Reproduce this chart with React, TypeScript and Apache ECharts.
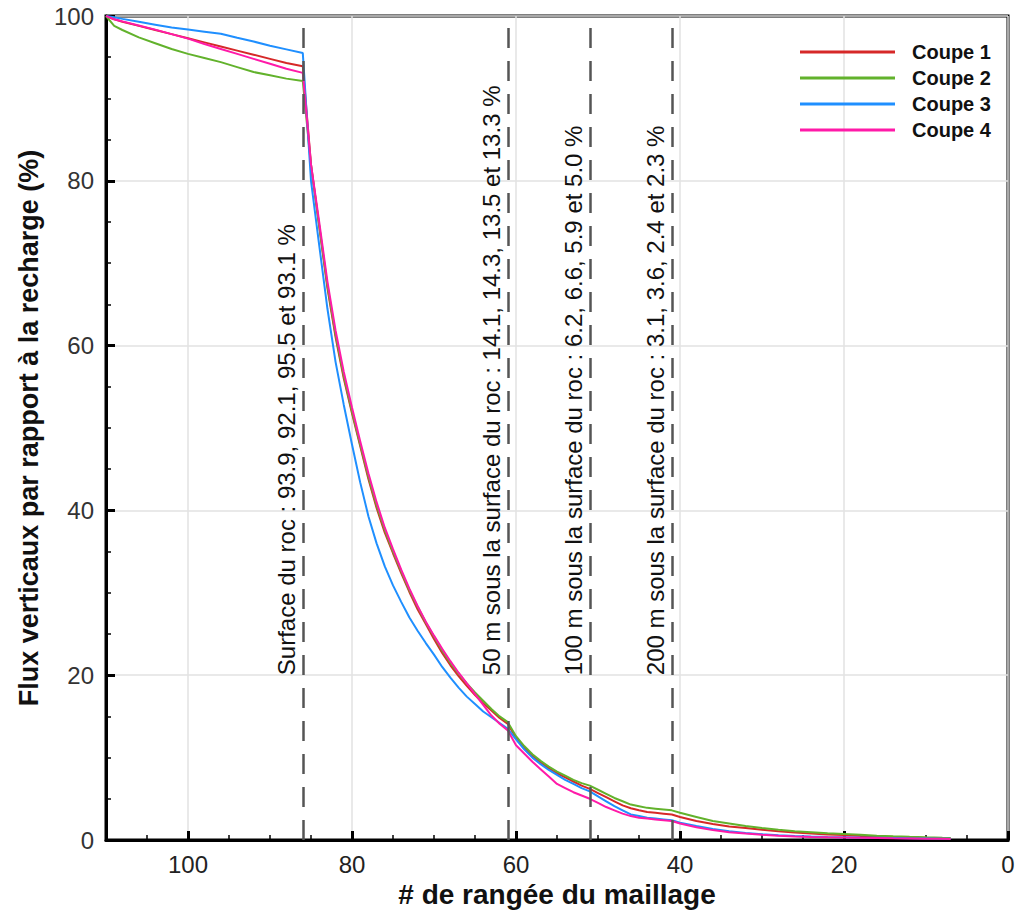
import React, { useEffect, useRef } from "react";
import * as echarts from "echarts";

const rows = [
  110, 109, 108, 106, 104, 102, 100, 98, 96, 94, 92, 90, 88, 86,
  85, 84, 83, 82, 81, 80, 79, 78, 77, 76, 75, 74, 73, 72, 71, 70, 69, 68, 67, 66, 65, 64, 63, 62, 61,
  60, 59, 58, 57, 56, 55, 54, 53, 52, 51, 50, 49, 48, 47, 46, 45, 44, 43, 42, 41,
  40, 38, 36, 34, 32, 30, 28, 26, 24, 22, 20, 18, 16, 14, 12, 10, 8, 7,
];

const coupe1 = [
  100, 99.6, 99.3, 98.8, 98.3, 97.8, 97.3, 96.8, 96.3, 95.8, 95.3, 94.8, 94.3, 93.9,
  82.0, 74.5, 67.0, 61.0, 56.0, 51.8, 47.8, 43.8, 40.3, 37.3, 34.8, 32.4, 30.1, 28.0, 26.2, 24.4, 22.7, 21.2, 19.9, 18.7, 17.6, 16.6, 15.7, 14.8, 14.1,
  12.4, 11.2, 10.2, 9.4, 8.7, 8.1, 7.6, 7.1, 6.6, 6.2, 5.7, 5.2, 4.7, 4.2, 3.85, 3.6, 3.4, 3.3, 3.2, 3.1,
  2.8, 2.3, 1.95, 1.65, 1.45, 1.25, 1.05, 0.9, 0.78, 0.68, 0.6, 0.5, 0.42, 0.36, 0.3, 0.25, 0.22, 0.2,
];

const coupe2 = [
  100, 98.8, 98.3, 97.4, 96.7, 96.0, 95.4, 94.9, 94.4, 93.8, 93.2, 92.8, 92.4, 92.1,
  81.8, 74.6, 67.3, 61.3, 56.3, 52.0, 48.0, 44.1, 40.6, 37.6, 35.0, 32.6, 30.3, 28.3, 26.4, 24.7, 23.0, 21.5, 20.2, 19.0, 17.9, 16.9, 15.9, 15.0, 14.3,
  12.6, 11.4, 10.4, 9.6, 8.9, 8.3, 7.8, 7.3, 6.9, 6.6, 6.1, 5.6, 5.1, 4.7, 4.3, 4.1, 3.9, 3.8, 3.7, 3.6,
  3.3, 2.8, 2.3, 2.0, 1.7, 1.45, 1.25, 1.07, 0.95, 0.83, 0.73, 0.63, 0.53, 0.45, 0.38, 0.32, 0.27, 0.25,
];

const coupe3 = [
  100, 99.85, 99.65, 99.3, 98.95, 98.6, 98.35, 98.1, 97.85, 97.35, 96.9, 96.4, 95.95, 95.5,
  80.0, 72.2, 64.5, 58.0, 52.8, 48.0, 43.4, 39.3, 36.0, 33.2, 30.9, 28.9, 27.0, 25.4, 23.9, 22.5, 21.0, 19.7, 18.5, 17.4, 16.5, 15.6, 14.9, 14.2, 13.5,
  12.2, 11.0, 10.0, 9.2, 8.5, 7.9, 7.3, 6.8, 6.3, 5.9, 5.3, 4.7, 4.1, 3.6, 3.1, 2.9, 2.7, 2.6, 2.5, 2.4,
  2.1, 1.7, 1.35, 1.05, 0.85, 0.7, 0.58, 0.48, 0.42, 0.37, 0.33, 0.29, 0.26, 0.23, 0.2, 0.18, 0.16, 0.15,
];

const coupe4 = [
  100, 99.6, 99.35, 98.85, 98.35, 97.8, 97.25, 96.6, 96.0, 95.4, 94.8, 94.2, 93.6, 93.1,
  82.0, 75.0, 67.8, 61.8, 56.8, 52.5, 48.4, 44.5, 41.0, 37.9, 35.3, 32.8, 30.5, 28.4, 26.5, 24.8, 23.2, 21.7, 20.3, 19.0, 17.7, 16.4, 15.1, 14.1, 13.3,
  11.5, 10.5, 9.5, 8.6, 7.7, 6.8, 6.3, 5.8, 5.4, 5.0, 4.5, 4.0, 3.6, 3.2, 2.9, 2.7, 2.6, 2.5, 2.4, 2.3,
  2.0, 1.55, 1.2, 0.95, 0.78, 0.63, 0.52, 0.43, 0.37, 0.33, 0.3, 0.26, 0.23, 0.2, 0.18, 0.16, 0.14, 0.13,
];

const seriesNames = ["Coupe 1", "Coupe 2", "Coupe 3", "Coupe 4"];
const seriesColors = ["#d62828", "#62b22c", "#1f8fff", "#ff1aa8"];

const markerRows = [86, 61, 51, 41];
const markerLabels = [
  "Surface du roc : 93.9, 92.1, 95.5 et 93.1 %",
  "50 m sous la surface du roc : 14.1, 14.3, 13.5 et 13.3 %",
  "100 m sous la surface du roc : 6.2, 6.6, 5.9 et 5.0 %",
  "200 m sous la surface du roc : 3.1, 3.6, 2.4 et 2.3 %",
];
const markerLabelY = 20;

const FONT = "'Liberation Sans', Arial, Helvetica, sans-serif";

export default function App() {
  const ref = useRef<HTMLDivElement>(null);

  useEffect(() => {
    if (!ref.current) return;
    const chart = echarts.init(ref.current, null, { renderer: "svg" });
    const values = [coupe1, coupe2, coupe3, coupe4];

    const series: any[] = values.map((vals, i) => ({
      name: seriesNames[i],
      type: "line",
      symbol: "none",
      showSymbol: false,
      smooth: false,
      data: rows.map((r, j) => [r, vals[j]]),
      lineStyle: { color: seriesColors[i], width: 2 },
      itemStyle: { color: seriesColors[i] },
      z: 3,
    }));

    series.push({
      name: "markers",
      type: "line",
      data: [],
      silent: true,
      z: 4,
      markLine: {
        silent: true,
        symbol: ["none", "none"],
        label: { show: false },
        lineStyle: { color: "#555", width: 2.5, type: [20, 13] },
        data: markerRows.map((r) => ({ xAxis: r })),
        z: 4,
      },
    });

    const option: any = {
      animation: false,
      backgroundColor: "#fff",
      textStyle: { fontFamily: FONT },
      grid: {
        left: 106,
        right: 12,
        top: 16,
        bottom: 75,
        show: true,
        borderColor: "#000",
        borderWidth: 3,
        backgroundColor: "transparent",
      },
      legend: {
        data: seriesNames.map((n) => ({ name: n, icon: "rect" })),
        orient: "vertical",
        left: 795,
        top: 37,
        itemWidth: 95,
        itemHeight: 3,
        itemGap: 6,
        textStyle: {
          fontFamily: FONT,
          fontSize: 20,
          fontWeight: "bold",
          color: "#111",
          padding: [0, 0, 0, 12],
        },
      },
      xAxis: {
        type: "value",
        min: 0,
        max: 110,
        interval: 20,
        inverse: true,
        name: "# de rangée du maillage",
        nameLocation: "middle",
        nameGap: 36,
        nameTextStyle: { fontFamily: FONT, fontSize: 28, fontWeight: "bold", color: "#111" },
        axisLine: { show: true, onZero: false, lineStyle: { color: "#000", width: 3 } },
        axisTick: { show: true, inside: true, length: 9, lineStyle: { color: "#000", width: 3 } },
        minorTick: { show: true, splitNumber: 4, length: 5, lineStyle: { color: "#000", width: 1.5 } },
        splitLine: { show: true, lineStyle: { color: "#e2e2e2", width: 1.5 } },
        axisLabel: {
          fontFamily: FONT,
          fontSize: 24,
          color: "#222",
          margin: 12,
          formatter: (v: number) => (v > 100 ? "" : String(v)),
        },
      },
      yAxis: {
        type: "value",
        min: 0,
        max: 100,
        interval: 20,
        name: "Flux verticaux par rapport à la recharge (%)",
        nameLocation: "middle",
        nameGap: 64,
        nameRotate: 90,
        nameTextStyle: { fontFamily: FONT, fontSize: 27, fontWeight: "bold", color: "#111" },
        axisLine: { show: true, onZero: false, lineStyle: { color: "#000", width: 3 } },
        axisTick: { show: true, inside: true, length: 9, lineStyle: { color: "#000", width: 3 } },
        minorTick: { show: true, splitNumber: 4, length: 5, lineStyle: { color: "#000", width: 1.5 } },
        splitLine: { show: true, lineStyle: { color: "#e2e2e2", width: 1.5 } },
        axisLabel: { fontFamily: FONT, fontSize: 24, color: "#333", margin: 12 },
      },
      series,
    };

    chart.setOption(option);

    const graphics = markerRows.map((r, i) => {
      const p = chart.convertToPixel({ gridIndex: 0 }, [r, markerLabelY]) as number[];
      return {
        type: "text",
        x: p[0] - 16,
        y: p[1],
        rotation: Math.PI / 2,
        z: 10,
        style: {
          text: markerLabels[i],
          fontFamily: FONT,
          fontSize: 24,
          fill: "#111",
          align: "left",
          verticalAlign: "middle",
        },
      };
    });
    chart.setOption({ graphic: graphics });

    return () => chart.dispose();
  }, []);

  return (
    <div
      ref={ref}
      style={{ position: "fixed", left: 0, top: 0, width: 1020, height: 915, background: "#fff" }}
    />
  );
}
